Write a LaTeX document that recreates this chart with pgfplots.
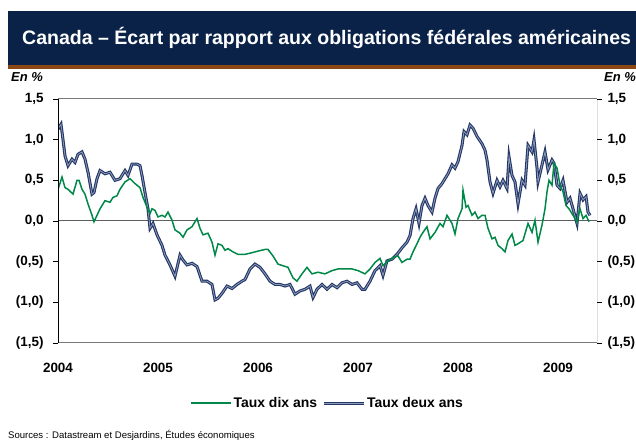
\documentclass[border=0pt]{standalone}
\usepackage{fontspec}
\setmainfont{Liberation Sans}
\usepackage{pgfplots}
\pgfplotsset{compat=1.18}
\definecolor{titlebar}{RGB}{10,34,72}
\definecolor{rulebrown}{RGB}{140,72,20}
\definecolor{tenyr}{RGB}{0,136,72}
\definecolor{twoyr}{RGB}{36,54,100}
\definecolor{twoyrcore}{RGB}{140,156,190}
\definecolor{framegray}{RGB}{120,120,120}
\definecolor{zerogray}{RGB}{95,95,95}

\begin{document}
\begin{tikzpicture}[x=1bp,y=1bp]
\useasboundingbox (0,0) rectangle (636,441);
% title band
\fill[titlebar] (8,376) rectangle (636,430);
\fill[rulebrown] (8,372) rectangle (636,376);
\node[anchor=west, text=white, inner sep=0, font=\bfseries\fontsize{19.6}{22}\selectfont] at (22,403)
  {Canada – Écart par rapport aux obligations fédérales américaines};
% unit labels
\node[anchor=west, inner sep=0, font=\bfseries\itshape\fontsize{13}{15}\selectfont] at (11,364) {En \%};
\node[anchor=east, inner sep=0, font=\bfseries\itshape\fontsize{13}{15}\selectfont] at (636,364) {En \%};
% source line
\node[anchor=west, inner sep=0, font=\fontsize{9.6}{11}\selectfont] at (8,6) {Sources : Datastream et Desjardins, Études économiques};

\begin{axis}[
  at={(58bp,98bp)}, anchor=south west,
  scale only axis, width=539bp, height=244bp,
  xmin=2004, xmax=2009.39, ymin=-1.5, ymax=1.5,
  axis line style={draw=none},
  xtick={2004,2005,2006,2007,2008,2009},
  xticklabels={2004,2005,2006,2007,2008,2009},
  xtick style={draw=none},
  xticklabel style={font=\bfseries\fontsize{13.5}{15}\selectfont, yshift=-12bp},
  ytick={-1.5,-1,-0.5,0,0.5,1,1.5},
  yticklabels={{(1,5)},{(1,0)},{(0,5)},{0,0},{0,5},{1,0},{1,5}},
  ytick pos=left,
  tick align=outside,
  major tick length=5bp,
  ytick style={black, line width=0.8bp},
  yticklabel style={font=\bfseries\fontsize{13.5}{15}\selectfont, xshift=-6bp},
  /pgf/number format/assume math mode=true,
  legend style={at={(0.5,-0.246)}, anchor=center, draw=none, fill=none,
    legend columns=2, font=\bfseries\fontsize{14}{16}\selectfont,
    /tikz/every even column/.append style={column sep=3bp}},
  legend image code/.code={\draw[#1] (0bp,0bp) -- (40bp,0bp);},
  tenstyle/.style={tenyr, line width=1.5bp},
  twostyle/.style={twoyr, line width=1.1bp, double=twoyrcore, double distance=0.8bp},
]
\draw[zerogray, line width=1bp] (axis cs:2004,0) -- (axis cs:2009.39,0);

\addlegendimage{tenstyle}
\addlegendentry{Taux dix ans}
\addlegendimage{twostyle}
\addlegendentry{Taux deux ans}

% two-year spread
\addplot[twostyle, forget plot] coordinates {
(2004.00,1.13) (2004.03,1.19) (2004.05,1.00) (2004.07,0.80) (2004.10,0.68) (2004.14,0.76)
(2004.17,0.72) (2004.20,0.82) (2004.24,0.85) (2004.27,0.76) (2004.30,0.60) (2004.34,0.33)
(2004.36,0.35) (2004.39,0.52) (2004.42,0.62) (2004.47,0.58) (2004.52,0.60) (2004.57,0.50)
(2004.62,0.52) (2004.67,0.62) (2004.70,0.56) (2004.74,0.70) (2004.79,0.70) (2004.82,0.68)
(2004.84,0.56) (2004.87,0.35) (2004.90,0.15) (2004.92,-0.09) (2004.95,-0.03) (2004.99,-0.17)
(2005.04,-0.30) (2005.07,-0.42) (2005.12,-0.54) (2005.17,-0.68) (2005.22,-0.42) (2005.25,-0.48)
(2005.29,-0.54) (2005.34,-0.52) (2005.39,-0.56) (2005.44,-0.74) (2005.49,-0.74) (2005.54,-0.78)
(2005.57,-0.97) (2005.60,-0.95) (2005.64,-0.89) (2005.69,-0.80) (2005.74,-0.83) (2005.79,-0.78)
(2005.84,-0.74) (2005.87,-0.72) (2005.92,-0.59) (2005.97,-0.53) (2006.02,-0.57) (2006.07,-0.65)
(2006.12,-0.74) (2006.17,-0.78) (2006.22,-0.78) (2006.27,-0.80) (2006.32,-0.78) (2006.37,-0.90)
(2006.42,-0.86) (2006.47,-0.84) (2006.52,-0.80) (2006.55,-0.94) (2006.59,-0.84) (2006.64,-0.78)
(2006.69,-0.84) (2006.74,-0.78) (2006.79,-0.82) (2006.84,-0.76) (2006.89,-0.74) (2006.94,-0.78)
(2006.99,-0.76) (2007.04,-0.84) (2007.07,-0.84) (2007.12,-0.74) (2007.17,-0.61) (2007.22,-0.55)
(2007.25,-0.67) (2007.29,-0.49) (2007.34,-0.47) (2007.39,-0.41) (2007.44,-0.33) (2007.49,-0.26)
(2007.52,-0.18) (2007.55,0.03) (2007.58,0.15) (2007.61,-0.03) (2007.64,0.19) (2007.67,0.28)
(2007.70,0.19) (2007.74,0.11) (2007.77,0.28) (2007.80,0.40) (2007.84,0.46) (2007.87,0.52)
(2007.90,0.58) (2007.94,0.69) (2007.97,0.65) (2008.00,0.73) (2008.04,0.93) (2008.06,1.10)
(2008.09,1.06) (2008.12,1.18) (2008.15,1.14) (2008.19,1.04) (2008.24,0.95) (2008.27,0.87)
(2008.29,0.75) (2008.32,0.48) (2008.35,0.34) (2008.39,0.50) (2008.42,0.42) (2008.45,0.50)
(2008.49,0.40) (2008.51,0.79) (2008.54,0.56) (2008.57,0.48) (2008.60,0.21) (2008.64,0.50)
(2008.67,0.44) (2008.70,0.93) (2008.74,0.85) (2008.76,1.00) (2008.79,0.65) (2008.80,0.48)
(2008.84,0.69) (2008.87,0.85) (2008.90,0.63) (2008.94,0.75) (2008.96,0.71) (2008.99,0.44)
(2009.02,0.40) (2009.05,0.50) (2009.09,0.23) (2009.12,0.28) (2009.15,0.15) (2009.19,-0.03)
(2009.22,0.34) (2009.25,0.26) (2009.28,0.30) (2009.30,0.11) (2009.32,0.07)
};

% ten-year spread
\addplot[tenstyle, forget plot] coordinates {
(2004.00,0.39) (2004.04,0.54) (2004.07,0.41) (2004.10,0.39) (2004.15,0.33) (2004.19,0.50)
(2004.21,0.50) (2004.24,0.39) (2004.27,0.33) (2004.30,0.21) (2004.34,0.07) (2004.36,-0.01)
(2004.39,0.07) (2004.42,0.15) (2004.47,0.25) (2004.52,0.23) (2004.55,0.29) (2004.59,0.31)
(2004.62,0.39) (2004.67,0.48) (2004.72,0.52) (2004.77,0.46) (2004.82,0.41) (2004.85,0.29)
(2004.89,0.17) (2004.92,0.09) (2004.94,0.15) (2004.97,0.13) (2005.00,0.05) (2005.04,0.07)
(2005.07,0.05) (2005.10,0.11) (2005.14,0.01) (2005.17,-0.11) (2005.22,-0.15) (2005.25,-0.20)
(2005.29,-0.11) (2005.34,-0.07) (2005.39,0.03) (2005.42,-0.09) (2005.45,-0.17) (2005.50,-0.15)
(2005.54,-0.26) (2005.57,-0.42) (2005.60,-0.28) (2005.64,-0.30) (2005.67,-0.36) (2005.70,-0.34)
(2005.75,-0.38) (2005.80,-0.41) (2005.87,-0.41) (2005.94,-0.39) (2006.00,-0.37) (2006.07,-0.35)
(2006.10,-0.35) (2006.15,-0.43) (2006.20,-0.53) (2006.25,-0.55) (2006.30,-0.57) (2006.35,-0.70)
(2006.39,-0.74) (2006.44,-0.65) (2006.49,-0.57) (2006.54,-0.65) (2006.60,-0.63) (2006.67,-0.65)
(2006.74,-0.61) (2006.80,-0.59) (2006.87,-0.59) (2006.94,-0.59) (2007.00,-0.61) (2007.07,-0.65)
(2007.12,-0.59) (2007.17,-0.51) (2007.22,-0.46) (2007.25,-0.55) (2007.30,-0.49) (2007.35,-0.45)
(2007.40,-0.43) (2007.44,-0.51) (2007.49,-0.47) (2007.52,-0.47) (2007.55,-0.38) (2007.59,-0.28)
(2007.62,-0.20) (2007.65,-0.14) (2007.69,-0.07) (2007.72,-0.22) (2007.77,-0.14) (2007.82,-0.03)
(2007.85,-0.07) (2007.89,0.07) (2007.94,-0.03) (2007.97,-0.16) (2008.00,0.03) (2008.04,0.15)
(2008.05,0.38) (2008.08,0.17) (2008.10,0.19) (2008.14,0.07) (2008.17,0.11) (2008.20,0.03)
(2008.24,0.07) (2008.27,0.07) (2008.30,-0.09) (2008.34,-0.22) (2008.37,-0.20) (2008.40,-0.30)
(2008.44,-0.34) (2008.47,-0.38) (2008.50,-0.24) (2008.54,-0.16) (2008.57,-0.30) (2008.60,-0.28)
(2008.65,-0.24) (2008.70,-0.03) (2008.74,-0.14) (2008.77,0.01) (2008.80,-0.26) (2008.84,-0.05)
(2008.87,0.15) (2008.89,0.36) (2008.91,0.50) (2008.94,0.44) (2008.96,0.71) (2008.99,0.65)
(2009.02,0.44) (2009.05,0.36) (2009.08,0.19) (2009.11,0.15) (2009.15,0.07) (2009.19,-0.01)
(2009.22,0.15) (2009.25,0.03) (2009.28,0.07) (2009.31,-0.01)
};

% frame: grey top and bottom, black sides
\draw[framegray, line width=1bp] (rel axis cs:0,0) -- (rel axis cs:1,0);
\draw[framegray, line width=1bp] (rel axis cs:0,1) -- (rel axis cs:1,1);
\draw[black, line width=1.3bp] (rel axis cs:0,0) -- (rel axis cs:0,1);
\draw[black, line width=0.9bp] (rel axis cs:1,0) -- (rel axis cs:1,1);
\end{axis}

% right-hand scale
\begin{axis}[
  at={(58bp,98bp)}, anchor=south west,
  scale only axis, width=539bp, height=244bp,
  xmin=2004, xmax=2009.39, ymin=-1.5, ymax=1.5,
  hide x axis,
  axis y line*=right,
  y axis line style={draw=none},
  ytick={-1.5,-1,-0.5,0,0.5,1,1.5},
  yticklabels={{(1,5)},{(1,0)},{(0,5)},{0,0},{0,5},{1,0},{1,5}},
  tick align=outside,
  major tick length=5bp,
  ytick style={black, line width=0.8bp},
  yticklabel style={font=\bfseries\fontsize{13.5}{15}\selectfont, xshift=2bp},
]
\end{axis}
\end{tikzpicture}
\end{document}
